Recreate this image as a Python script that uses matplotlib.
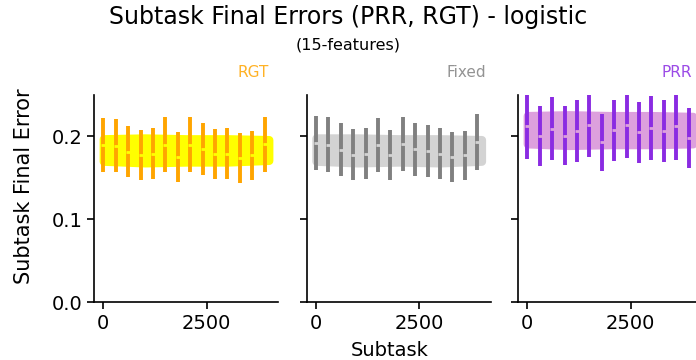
import numpy as np
import matplotlib.pyplot as plt

# error bar positions (subtask index)
subtasks = [0, 300, 600, 900, 1200, 1500, 1800, 2100, 2400, 2700, 3000, 3300, 3600, 3900]

rgt_mean = [0.1896, 0.1886, 0.1816, 0.1778, 0.1790, 0.1900, 0.1748,
            0.1900, 0.1846, 0.1786, 0.1790, 0.1737, 0.1774, 0.1904]
rgt_err = [0.0328, 0.0322, 0.0312, 0.0302, 0.0306, 0.0328, 0.0300,
           0.0328, 0.0314, 0.0302, 0.0306, 0.0302, 0.0296, 0.0332]

fixed_mean = [0.1918, 0.1898, 0.1836, 0.1779, 0.1790, 0.1896, 0.1773,
              0.1908, 0.1842, 0.1818, 0.1791, 0.1746, 0.1770, 0.1930]
fixed_err = [0.0330, 0.0330, 0.0320, 0.0304, 0.0306, 0.0324, 0.0306,
             0.0328, 0.0322, 0.0314, 0.0312, 0.0302, 0.0294, 0.0334]

prr_mean = [0.2124, 0.2004, 0.2094, 0.2008, 0.2064, 0.2136, 0.1928,
            0.2072, 0.2132, 0.2048, 0.2100, 0.2064, 0.2124, 0.1980]
prr_err = [0.0392, 0.0360, 0.0382, 0.0356, 0.0372, 0.0384, 0.0344,
           0.0364, 0.0392, 0.0372, 0.0384, 0.0380, 0.0408, 0.0364]

# envelope of the dense per-subtask scatter cloud
band_x = [0, 1000, 2000, 3000, 4000]
rgt_band_lo = [0.170, 0.168, 0.169, 0.169, 0.171]
rgt_band_hi = [0.197, 0.198, 0.197, 0.197, 0.196]
fixed_band_lo = [0.170, 0.168, 0.169, 0.168, 0.170]
fixed_band_hi = [0.198, 0.198, 0.197, 0.197, 0.196]
prr_band_lo = [0.191, 0.189, 0.190, 0.190, 0.191]
prr_band_hi = [0.225, 0.226, 0.225, 0.225, 0.224]

panels = [
    ('RGT', rgt_mean, rgt_err, rgt_band_lo, rgt_band_hi, 'orange', 'yellow'),
    ('Fixed', fixed_mean, fixed_err, fixed_band_lo, fixed_band_hi, 'gray', 'lightgray'),
    ('PRR', prr_mean, prr_err, prr_band_lo, prr_band_hi, 'blueviolet', 'plum'),
]

fig = plt.figure(figsize=(6.96, 3.6), dpi=100)
lefts = [94 / 696, 306.7 / 696, 518 / 696]
w = 184 / 696
bottom = 1 - 302 / 360
h = (302 - 94.9) / 360

for i, (name, mean, err, lo, hi, ecol, bcol) in enumerate(panels):
    ax = fig.add_axes([lefts[i], bottom, w, h])
    ax.fill_between(band_x, lo, hi, color=bcol, lw=6, edgecolor=bcol,
                    joinstyle='round', capstyle='round', zorder=1)
    ax.errorbar(subtasks, mean, yerr=err, fmt='none', ecolor=ecol,
                elinewidth=2.8, zorder=2)
    ax.plot(subtasks, mean, ls='none', marker='_', ms=3.5, mew=2,
            color=bcol, zorder=3)
    ax.set_xlim(-225, 4224)
    ax.set_ylim(0, 0.25)
    ax.set_xticks([0, 2500])
    ax.set_yticks([0.0, 0.1, 0.2])
    if i > 0:
        ax.set_yticklabels([])
    ax.tick_params(labelsize=14, width=1.2, length=5)
    for s in ['top', 'right']:
        ax.spines[s].set_visible(False)
    for s in ['left', 'bottom']:
        ax.spines[s].set_linewidth(1.2)
    ax.text(0.865, 1.11, name, transform=ax.transAxes, ha='center',
            va='center', fontsize=11, color=ecol, alpha=0.85)

fig.text(0.5, 1 - 17 / 360, 'Subtask Final Errors (PRR, RGT) - logistic',
         ha='center', va='center', fontsize=17)
fig.text(0.5, 1 - 45 / 360, '(15-features)', ha='center', va='center', fontsize=11.5)
fig.text(389.5 / 696, 1 - 350 / 360, 'Subtask', ha='center', va='center', fontsize=14)
fig.text(24 / 696, 1 - 186 / 360, 'Subtask Final Error', ha='center', va='center',
         rotation=90, fontsize=15)

plt.savefig('out.png', dpi=100)
